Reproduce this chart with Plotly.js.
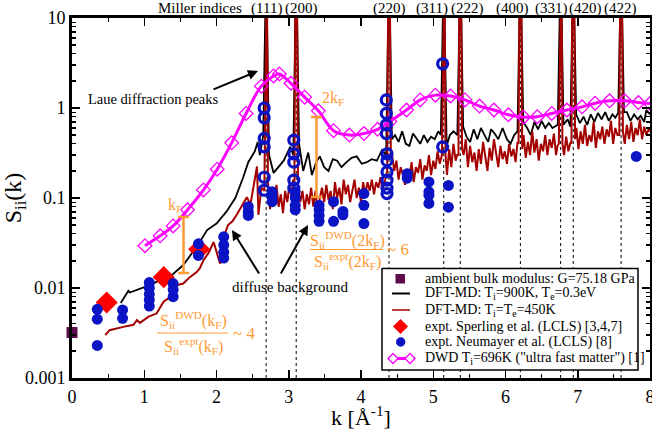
<!DOCTYPE html>
<html><head><meta charset="utf-8">
<script src="https://cdn.plot.ly/plotly-3.0.1.min.js"></script>
<style>html,body{margin:0;padding:0;background:#fff}#c{width:652px;height:430px}</style>
</head><body><div id="c"></div>
<script>
// Bragg peak positions (fcc Al) and Miller labels
const braggK = [2.687, 3.103, 4.388, 5.145, 5.374, 6.206, 6.763, 6.938, 7.600];
const millerLabels = ['(111)','(200)','(220)','(311)','(222)','(400)','(331)','(420)','(422)'];
const millerPx = [266, 301, 389, 432, 467, 512, 551, 585, 620];

// series names (legend)
const seriesNames = [
  'ambient bulk modulus: G=75.18 GPa',
  'DFT-MD: T<sub>i</sub>=900K, T<sub>e</sub>=0.3eV',
  'DFT-MD: T<sub>i</sub>=T<sub>e</sub>=450K',
  'expt. Sperling et al. (LCLS) [3,4,7]',
  'expt. Neumayer et al. (LCLS) [8]',
  'DWD T<sub>i</sub>=696K ("ultra fast matter") [1]'
];

// DFT-MD Ti=900K, Te=0.3eV (black)
const kBlack = [0.675,0.78,0.80,1.03,1.20,1.38,1.54,1.73,1.87,2.00,2.14,2.26,2.37,2.44,2.53,2.57,2.60,2.647,2.687,2.727,
  2.79,2.86,2.93,3.02,3.063,3.103,3.143,
  3.20,3.27,3.32,3.38,3.43,3.49,3.55,3.61,3.67,3.73,3.80,3.87,3.94,4.01,4.08,4.15,4.22,4.29,4.348,4.388,4.428,
  4.47,4.52,4.57,4.62,4.67,4.72,4.77,4.82,4.87,4.92,4.97,5.02,5.07,5.105,5.145,5.185,
  5.23,5.28,5.334,5.374,5.414,
  5.46,5.51,5.56,5.61,5.66,5.71,5.76,5.80,5.85,5.90,5.96,6.02,6.07,6.12,6.166,6.206,6.246,
  6.30,6.35,6.40,6.45,6.50,6.55,6.60,6.65,6.723,6.763,6.803,
  6.86,6.898,6.938,6.978,
  7.03,7.08,7.13,7.18,7.23,7.28,7.33,7.38,7.43,7.48,7.52,7.56,7.60,7.64,
  7.68,7.73,7.78,7.83,7.87,7.92,7.95,8.0];
const sBlack = [0.0068,0.0093,0.0089,0.0104,0.0120,0.0139,0.018,0.029,0.044,0.052,0.071,0.100,0.17,0.25,0.33,0.42,0.30,0.5,40,0.3,
  0.19,0.22,0.26,0.37,0.3,40,0.4,
  0.2,0.32,0.18,0.25,0.29,0.22,0.2,0.27,0.26,0.22,0.25,0.28,0.29,0.24,0.25,0.27,0.26,0.34,0.3,40,0.45,
  0.5,0.42,0.55,0.4,0.38,0.52,0.45,0.4,0.5,0.42,0.48,0.45,0.55,0.5,40,0.38,
  0.5,0.55,0.5,40,0.62,
  0.48,0.42,0.58,0.45,0.6,0.5,0.42,0.58,0.52,0.45,0.6,0.45,0.4,0.5,0.55,40,0.7,
  0.6,0.5,0.7,0.58,0.72,0.6,0.68,0.6,0.65,40,0.65,
  0.75,0.62,40,0.85,
  0.68,0.8,0.65,0.85,0.7,0.88,0.75,0.9,0.72,0.85,0.78,0.88,40,0.9,
  0.9,0.72,0.85,0.75,0.82,0.7,0.95,0.85];

// DFT-MD Ti=Te=450K (dark red)
const kRed = [0.46,0.52,0.71,0.85,0.90,0.94,1.06,1.17,1.27,1.36,1.45,1.54,1.63,1.73,1.77,1.82,1.89,1.96,2.05,2.10,2.16,2.22,2.28,2.35,2.42,2.47,2.52,2.56,2.58,2.62,2.662,2.677,2.697,2.712,
  2.74,2.77,2.80,2.83,2.86,2.89,2.92,2.95,2.98,3.01,3.04,3.06,3.078,3.093,3.113,3.128,
  3.16,3.19,3.22,3.25,3.28,3.31,3.34,3.37,3.40,3.43,3.46,3.49,3.52,3.55,3.58,3.61,3.64,3.67,3.70,3.73,3.76,3.79,3.82,3.85,3.88,3.91,3.94,3.97,4.00,4.03,4.06,4.09,4.12,4.15,4.18,4.21,4.24,4.27,4.30,4.33,4.363,4.378,4.398,4.413,
  4.43,4.46,4.49,4.52,4.55,4.58,4.61,4.64,4.67,4.70,4.73,4.76,4.79,4.82,4.85,4.88,4.91,4.94,4.97,5.00,5.03,5.06,5.09,5.120,5.135,5.155,5.170,
  5.19,5.22,5.25,5.28,5.31,5.33,5.349,5.364,5.384,5.399,
  5.42,5.45,5.48,5.51,5.54,5.57,5.60,5.63,5.66,5.69,5.72,5.75,5.78,5.81,5.84,5.87,5.90,5.93,5.96,5.99,6.02,6.05,6.08,6.11,6.14,6.166,6.181,6.196,6.216,6.231,
  6.25,6.28,6.31,6.34,6.37,6.40,6.43,6.46,6.49,6.52,6.55,6.58,6.61,6.64,6.67,6.70,6.72,6.738,6.753,6.773,6.788,
  6.81,6.84,6.87,6.90,6.913,6.928,6.948,6.963,
  6.98,7.01,7.04,7.07,7.10,7.13,7.16,7.19,7.22,7.25,7.28,7.31,7.34,7.37,7.40,7.43,7.46,7.49,7.52,7.55,7.575,7.590,7.610,7.625,
  7.65,7.68,7.71,7.74,7.77,7.80,7.83,7.86,7.89,7.92,7.95,7.98,8.0];
const sRed = [0.0030,0.0034,0.0037,0.0039,0.0044,0.0041,0.0048,0.0052,0.0071,0.0079,0.0107,0.0112,0.0132,0.0151,0.0166,0.0204,0.0245,0.0324,0.0186,0.0372,0.050,0.055,0.065,0.083,0.102,0.085,0.14,0.224,0.065,0.13,0.12,40,40,0.15,
  0.075,0.13,0.09,0.14,0.08,0.11,0.068,0.12,0.09,0.14,0.10,0.16,0.14,40,40,0.13,
  0.09,0.12,0.075,0.11,0.085,0.13,0.08,0.12,0.07,0.10,0.13,0.09,0.14,0.095,0.12,0.075,0.15,0.10,0.13,0.085,0.16,0.11,0.14,0.09,0.12,0.16,0.10,0.13,0.09,0.15,0.11,0.15,0.12,0.16,0.11,0.15,0.13,0.17,0.12,0.16,0.2,40,40,0.3,
  0.3,0.2,0.26,0.16,0.22,0.18,0.14,0.21,0.17,0.25,0.15,0.22,0.19,0.27,0.16,0.23,0.2,0.3,0.18,0.26,0.21,0.33,0.24,0.3,40,40,0.3,
  0.18,0.35,0.22,0.4,0.26,0.3,0.3,40,40,0.35,
  0.3,0.45,0.22,0.38,0.25,0.32,0.2,0.35,0.24,0.42,0.28,0.2,0.36,0.26,0.45,0.3,0.22,0.38,0.27,0.33,0.24,0.4,0.29,0.35,0.25,0.42,0.4,40,40,0.35,
  0.5,0.28,0.42,0.3,0.55,0.32,0.45,0.26,0.4,0.33,0.5,0.3,0.45,0.36,0.52,0.3,0.38,0.4,40,40,0.4,
  0.3,0.48,0.33,0.42,0.4,40,40,0.45,
  0.6,0.35,0.55,0.4,0.65,0.38,0.5,0.42,0.7,0.36,0.55,0.45,0.62,0.4,0.58,0.48,0.72,0.4,0.6,0.5,0.5,40,40,0.55,
  0.4,0.65,0.45,0.7,0.42,0.6,0.5,0.75,0.45,0.62,0.5,0.58,0.55];

// expt. Neumayer et al. (filled) and near-Bragg (open)
const kNeuF = [0.35,0.35,0.35,0.70,0.70,1.07,1.07,1.07,1.07,1.07,1.40,1.40,1.40,1.75,1.75,2.10,2.10,2.10,2.10,2.44,2.44,2.44,2.77,2.77,2.77,3.09,3.09,3.09,3.09,3.42,3.42,3.42,3.42,3.62,3.62,3.75,3.75,4.04,4.04,4.04,4.64,4.64,4.94,4.94,4.94,4.94,5.21,5.21,7.81];
const sNeuF = [0.0058,0.0045,0.0023,0.0057,0.0046,0.0115,0.0100,0.0085,0.0074,0.0063,0.0112,0.0096,0.0080,0.031,0.023,0.037,0.030,0.025,0.0215,0.080,0.070,0.064,0.117,0.102,0.091,0.117,0.100,0.083,0.074,0.083,0.074,0.064,0.055,0.091,0.055,0.071,0.065,0.112,0.083,0.052,0.186,0.166,0.151,0.117,0.107,0.087,0.138,0.079,0.29];
const kNeuO = [2.66,2.66,2.66,2.66,2.66,2.66,3.07,3.07,3.07,3.07,3.07,4.35,4.35,4.35,4.35,4.36,4.36,4.36,4.36,4.36,4.36,5.13,5.13];
const sNeuO = [1.0,0.78,0.46,0.37,0.17,0.122,0.44,0.31,0.25,0.158,0.129,1.23,0.87,0.65,0.52,0.31,0.26,0.195,0.158,0.129,0.112,3.1,0.37];

// expt. Sperling et al.
const kSp = [0.48, 1.27, 1.76];
const sSp = [0.0069, 0.0132, 0.027];

// ambient bulk modulus
const kAmb = [0];
const sAmb = [0.0032];

// DWD Ti=696K
const kDWD = [1.01,1.22,1.40,1.60,1.82,2.01,2.21,2.41,2.62,2.79,2.87,3.03,3.22,3.41,3.62,3.84,4.04,4.23,4.40,4.63,4.82,5.03,5.24,5.44,5.64,5.84,6.04,6.25,6.44,6.64,6.85,7.06,7.24,7.44,7.65,7.84,8.0];
const sDWD = [0.0295,0.038,0.049,0.074,0.123,0.209,0.41,0.87,1.75,2.27,2.39,1.88,1.32,0.93,0.56,0.50,0.52,0.58,0.71,0.95,1.23,1.39,1.36,1.23,1.05,0.95,0.84,0.79,0.80,0.87,0.95,1.03,1.13,1.20,1.20,1.15,1.12];

const SERIF = 'Liberation Serif';
const ORANGE = '#ff9a33';
const C_BLACK = '#000000', C_RED = '#a50000', C_MAG = '#ff00ff', C_SP = '#ff0000', C_NEU = '#0a14c4', C_AMB = '#5e0a4c';
const L = 72, R = 650, T = 18, B = 378;
function P(px, py){ return {x:(px-L)/(R-L), y:(B-py)/(B-T)}; }

const traces = [
  {x:kBlack, y:sBlack, mode:'lines', name:seriesNames[1], line:{color:C_BLACK, width:1.8}},
  {x:kRed, y:sRed, mode:'lines', name:seriesNames[2], line:{color:C_RED, width:2}},
  {x:kDWD, y:sDWD, mode:'lines+markers', name:seriesNames[5], line:{color:C_MAG, width:3, shape:'spline'},
    marker:{symbol:'diamond-open', size:10.5, color:C_MAG, line:{width:1.3, color:C_MAG}}},
  {x:kSp, y:sSp, mode:'markers', name:seriesNames[3], marker:{symbol:'diamond', size:17, color:C_SP}},
  {x:kNeuF, y:sNeuF, mode:'markers', name:seriesNames[4], marker:{symbol:'circle', size:11, color:C_NEU}},
  {x:kNeuO, y:sNeuO, mode:'markers', name:seriesNames[4], marker:{symbol:'circle-open', size:10, color:C_NEU, line:{width:3.2, color:C_NEU}}},
  {x:kAmb, y:sAmb, mode:'markers', name:seriesNames[0], marker:{symbol:'square', size:11, color:C_AMB}, cliponaxis:false}
];

const shapes = braggK.map(k => ({type:'line', xref:'x', yref:'paper', x0:k, x1:k, y0:0, y1:1, layer:'below', line:{color:'#000', width:1, dash:'dot'}}));
function seg(p1, p2, color, w){ const a=P(p1[0],p1[1]), b=P(p2[0],p2[1]); return {type:'line', xref:'paper', yref:'paper', x0:a.x, y0:a.y, x1:b.x, y1:b.y, line:{color:color, width:w}}; }
function rect(x0,y0,x1,y1,fill,lc,lw,type){ const a=P(x0,y0), b=P(x1,y1); return {type:type||'rect', xref:'paper', yref:'paper', x0:a.x, y0:b.y, x1:b.x, y1:a.y, fillcolor:fill, line:{color:lc, width:lw}}; }
function diamond(cx, cy, r, fill, lc, lw){ const pts=[[cx,cy-r],[cx+r,cy],[cx,cy+r],[cx-r,cy]].map(q=>P(q[0],q[1]));
  return {type:'path', xref:'paper', yref:'paper', path:'M'+pts.map(p=>p.x+','+p.y).join(' L')+' Z', fillcolor:fill, line:{color:lc, width:lw}}; }
// orange I-bars and fraction bars
shapes.push(seg([183.5,217],[183.5,273],ORANGE,2.5), seg([178,217],[189,217],ORANGE,2.5), seg([178,273],[189,273],ORANGE,2.5));
shapes.push(seg([316.5,117],[316.5,197],ORANGE,2.5), seg([311,117],[322,117],ORANGE,2.5), seg([311,197],[322,197],ORANGE,2.5));
shapes.push(seg([157,333],[228,333],ORANGE,1.2), seg([310,249.5],[383,249.5],ORANGE,1.2));
// legend box and keys
const legRows = [278.5, 293.5, 310, 326.5, 342, 358.5];
shapes.push(rect(382,268.5,638,370,'#ffffff','#000',1.5));
shapes.push(rect(395.5,274,405,283.5,C_AMB,C_AMB,0));
shapes.push(seg([392,legRows[1]],[410,legRows[1]],C_BLACK,2));
shapes.push(seg([392,legRows[2]],[410,legRows[2]],C_RED,1.5));
shapes.push(diamond(400.5,legRows[3],7.5,C_SP,C_SP,0));
shapes.push(rect(396,legRows[4]-4.7,405.4,legRows[4]+4.7,C_NEU,C_NEU,0,'circle'));
shapes.push(seg([388,legRows[5]],[415,legRows[5]],C_MAG,3));
shapes.push(diamond(393,legRows[5],5,'#ffffff',C_MAG,1.3), diamond(410,legRows[5],5,'#ffffff',C_MAG,1.3));

function txt(text, px, py, size, color, xanchor){ const p=P(px,py); return {xref:'paper', yref:'paper', x:p.x, y:p.y, text:text, showarrow:false, xanchor:xanchor||'center', yanchor:'middle', font:{family:SERIF, size:size, color:color||'#000'}}; }
function arrow(hx, hy, tx, ty){ const p=P(hx,hy); return {xref:'paper', yref:'paper', x:p.x, y:p.y, ax:tx-hx, ay:ty-hy, text:'', showarrow:true, arrowhead:2, arrowsize:1, arrowwidth:2, arrowcolor:'#000'}; }

const annotations = [txt('Miller indices', 200, 8, 15)];
millerLabels.forEach((m,i) => annotations.push(txt(m, millerPx[i], 8, 15)));
annotations.push(
  txt('Laue diffraction peaks', 153, 99, 14.5),
  arrow(258, 71, 212, 90),
  txt('diffuse background', 290, 287, 15),
  arrow(232, 230, 260, 275),
  arrow(308, 225, 280, 275),
  txt('k<sub>F</sub>', 175, 206, 16, ORANGE),
  txt('2k<sub>F</sub>', 333, 99, 16, ORANGE),
  txt('S<sub>ii</sub><sup>DWD</sup>(k<sub>F</sub>)', 193, 320, 16, ORANGE),
  txt('S<sub>ii</sub><sup>expt</sup>(k<sub>F</sub>)', 193, 346, 16, ORANGE),
  txt('~ 4', 231, 333, 17, ORANGE, 'left'),
  txt('S<sub>ii</sub><sup>DWD</sup>(2k<sub>F</sub>)', 347, 240, 16, ORANGE),
  txt('S<sub>ii</sub><sup>expt</sup>(2k<sub>F</sub>)', 347, 261, 16, ORANGE),
  txt('~ 6', 385, 250, 17, ORANGE, 'left')
);
seriesNames.forEach((n,i) => annotations.push(txt(n, 422.5, legRows[i], 14, '#000', 'left')));

const yMinor = [];
[0.001, 0.01, 0.1, 1].forEach(d => { for (let m = 2; m <= 9; m++) yMinor.push(m*d); });

const layout = {
  width:652, height:430,
  margin:{l:L, r:652-R, t:T, b:430-B},
  paper_bgcolor:'#fff', plot_bgcolor:'#fff',
  font:{family:SERIF, color:'#000'},
  showlegend:false,
  xaxis:{range:[0,8], tickvals:[0,1,2,3,4,5,6,7,8], ticks:'inside', ticklen:8, tickwidth:1.5, tickcolor:'#000',
    showline:true, linewidth:3, linecolor:'#000', mirror:'allticks', showgrid:false, zeroline:false, ticklabeloverflow:'allow',
    minor:{ticks:'inside', ticklen:4, tickwidth:1.2, dtick:0.5, tickcolor:'#000', showgrid:false},
    tickfont:{family:SERIF, size:18}, title:{text:'k [Å<sup>-1</sup>]', font:{family:SERIF, size:22}, standoff:4}},
  yaxis:{type:'log', range:[-3,1], tickvals:[0.001,0.01,0.1,1,10], ticktext:['0.001','0.01','0.1','1','10'],
    ticks:'inside', ticklen:8, tickwidth:1.5, tickcolor:'#000',
    showline:true, linewidth:3, linecolor:'#000', mirror:'allticks', showgrid:false, zeroline:false,
    minor:{ticks:'inside', ticklen:4, tickwidth:1.2, tickvals:yMinor, tickcolor:'#000', showgrid:false},
    tickfont:{family:SERIF, size:18}, title:{text:'S<sub>ii</sub>(k)', font:{family:SERIF, size:24}, standoff:2}},
  shapes:shapes, annotations:annotations
};

Plotly.newPlot('c', traces, layout, {displayModeBar:false, staticPlot:true});
</script></body></html>
